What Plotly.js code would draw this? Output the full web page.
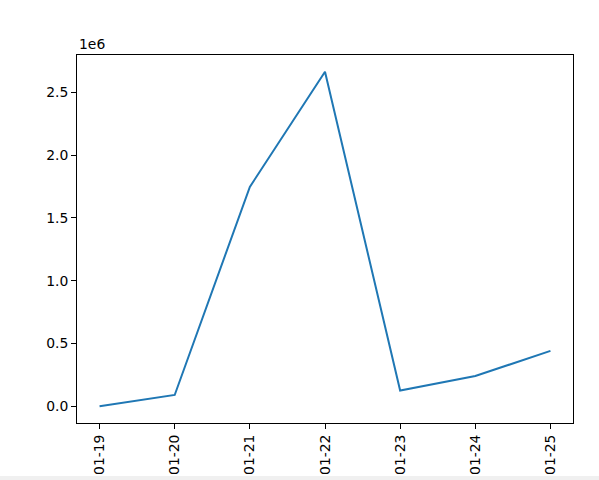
<!DOCTYPE html>
<html>
<head>
<meta charset="utf-8">
<script src="https://cdn.plot.ly/plotly-3.0.1.min.js"></script>
<style>
html,body{margin:0;padding:0;background:#fff;overflow:hidden;}
#chart{width:599px;height:480px;}
#strip{position:fixed;left:0;bottom:0;width:599px;height:4px;background:#f0f0f0;}
</style>
</head>
<body>
<div id="chart"></div>
<div id="strip"></div>
<script>
const dates = ["01-19", "01-20", "01-21", "01-22", "01-23", "01-24", "01-25"];
const values = [0, 90000, 1747000, 2664000, 125000, 241000, 441000];
const yTickVals = [0, 500000, 1000000, 1500000, 2000000, 2500000];
const yTickText = ["0.0", "0.5", "1.0", "1.5", "2.0", "2.5"];
const offsetLabel = "1e6";

const font = {family: "DejaVu Sans", size: 13.9, color: "#000"};

Plotly.newPlot("chart", [{
  x: dates,
  y: values,
  type: "scatter",
  mode: "lines",
  line: {color: "#1f77b4", width: 2},
  hoverinfo: "skip"
}], {
  width: 599,
  height: 480,
  margin: {l: 77, r: 26, t: 55, b: 57, pad: 0},
  paper_bgcolor: "#fff",
  plot_bgcolor: "#fff",
  font: font,
  showlegend: false,
  xaxis: {
    type: "category",
    range: [-0.3, 6.3],
    showgrid: false,
    zeroline: false,
    showline: true,
    linecolor: "#000",
    linewidth: 1,
    mirror: true,
    ticks: "outside",
    ticklen: 5,
    tickwidth: 1,
    tickcolor: "#000",
    tickangle: -90,
    tickfont: font
  },
  yaxis: {
    range: [-133200, 2797200],
    showgrid: false,
    zeroline: false,
    showline: true,
    linecolor: "#000",
    linewidth: 1,
    mirror: true,
    ticks: "outside",
    ticklen: 5,
    tickwidth: 1,
    tickcolor: "#000",
    tickvals: yTickVals,
    ticktext: yTickText,
    tickfont: font
  },
  annotations: [{
    text: offsetLabel,
    xref: "paper", yref: "paper",
    x: 0, y: 1,
    xanchor: "left", yanchor: "bottom",
    yshift: 1,
    showarrow: false,
    font: font
  }]
}, {displayModeBar: false, staticPlot: true});
</script>
</body>
</html>
